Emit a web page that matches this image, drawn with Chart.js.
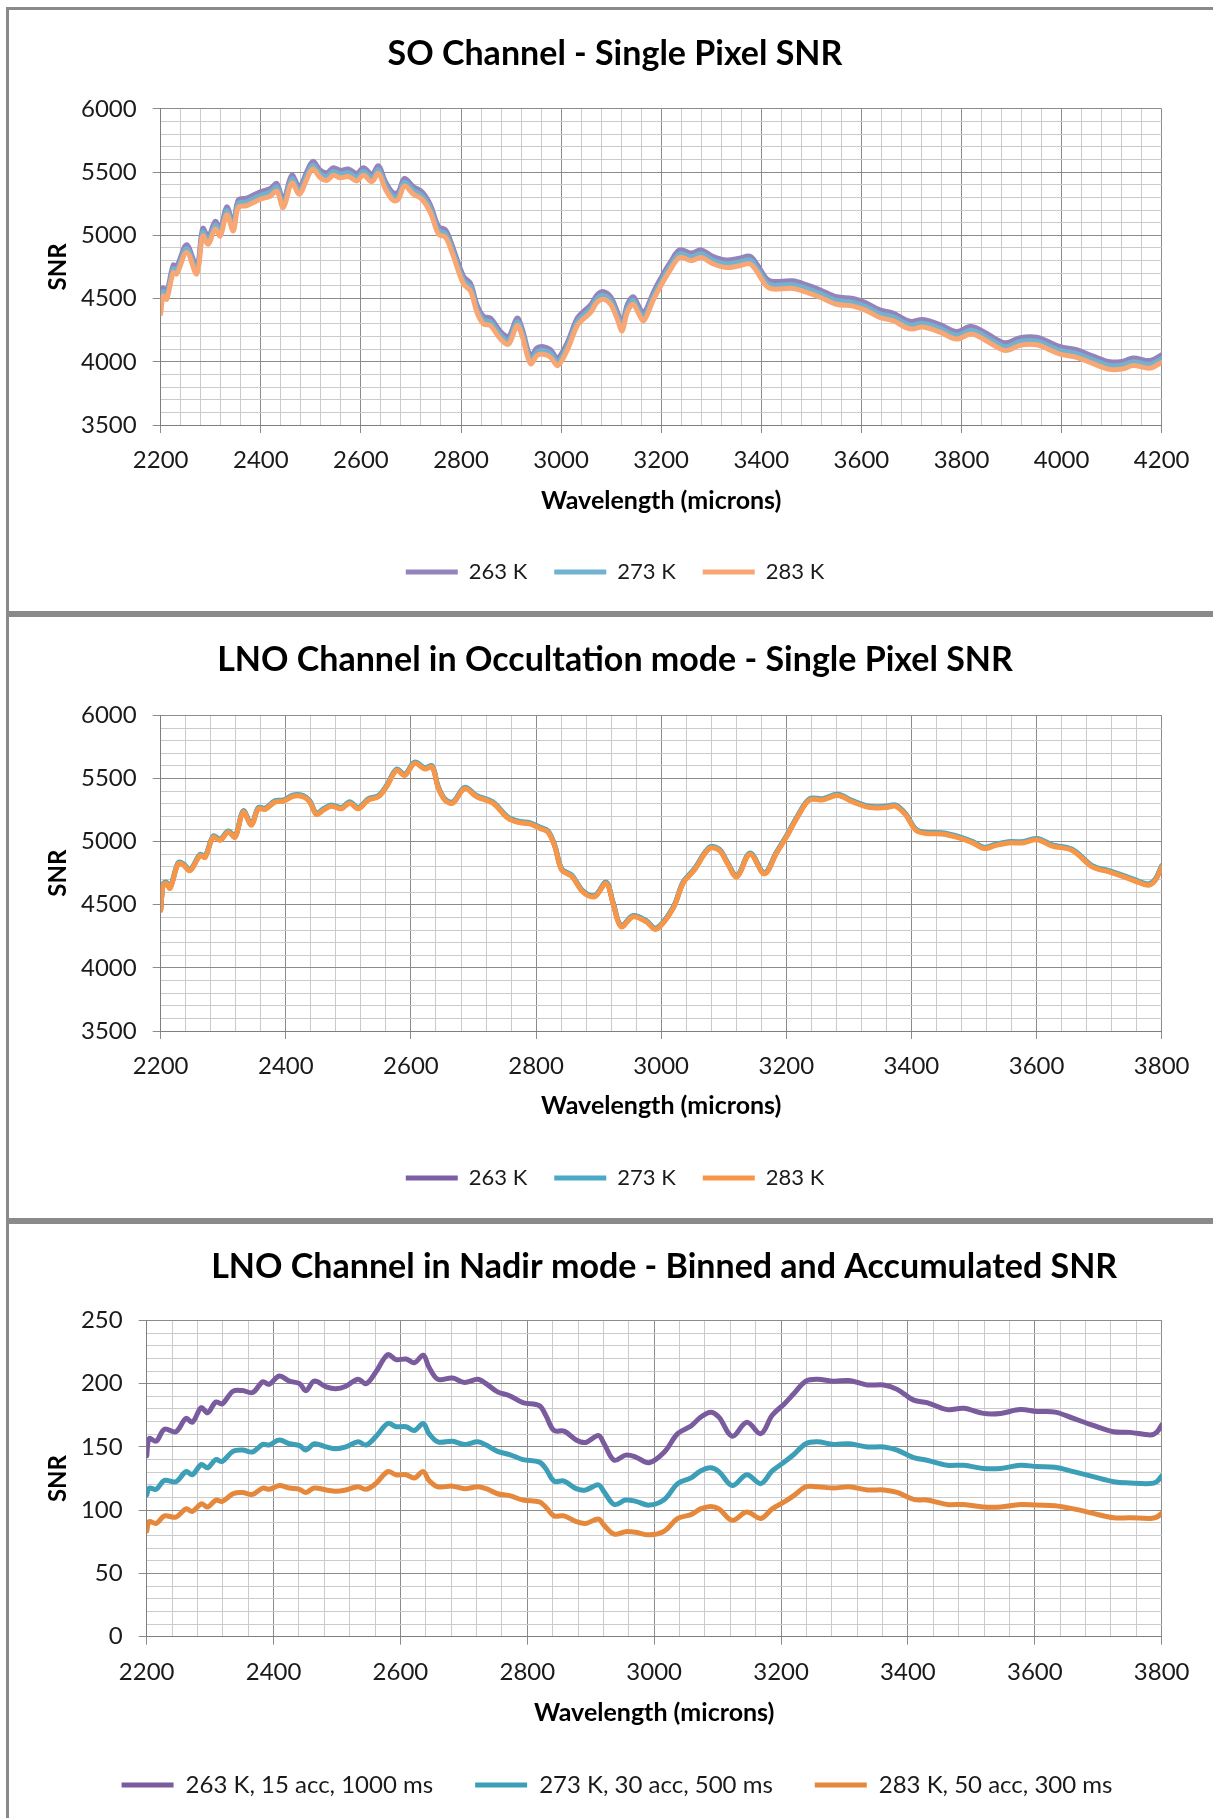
<!DOCTYPE html>
<html>
<head>
<meta charset="utf-8">
<script src="https://cdn.jsdelivr.net/npm/chart.js@4.4.1/dist/chart.umd.min.js"></script>
<style>
  html, body { margin: 0; padding: 0; background: #fff; overflow: hidden; width: 1213px; height: 1818px; }
  .panel { position: absolute; left: 6px; width: 1230px; border: 3px solid #8a8a8a; border-right: none; box-sizing: border-box; }
  canvas { position: absolute; left: 10px; }
</style>
</head>
<body>
<div class="panel" style="top:7px;height:607px"></div>
<div class="panel" style="top:614px;height:607px"></div>
<div class="panel" style="top:1221px;height:620px"></div>
<canvas id="so" width="1210" height="601" style="top:10px"></canvas>
<canvas id="lnoOcc" width="1210" height="601" style="top:617px"></canvas>
<canvas id="lnoNadir" width="1214" height="594" style="top:1224px"></canvas>
<script>
// ---- SO channel, single pixel SNR ----
const SO_WAVELENGTH = [2200, 2205, 2212, 2225, 2232, 2252, 2272, 2284, 2295, 2309,
  2319, 2332, 2345, 2355, 2372, 2399, 2419, 2432, 2445, 2462,
  2477, 2492, 2504, 2519, 2532, 2545, 2559, 2575, 2592, 2605,
  2622, 2635, 2649, 2665, 2675, 2687, 2705, 2722, 2739, 2755,
  2769, 2782, 2805, 2819, 2832, 2845, 2859, 2879, 2895, 2912,
  2922, 2939, 2952, 2965, 2979, 2993, 3012, 3032, 3045, 3059,
  3072, 3085, 3099, 3112, 3122, 3132, 3144, 3155, 3165, 3185,
  3199, 3217, 3237, 3260, 3280, 3303, 3330, 3357, 3377, 3390,
  3410, 3423, 3463, 3490, 3517, 3550, 3583, 3610, 3637, 3663,
  3697, 3723, 3757, 3790, 3820, 3850, 3887, 3917, 3950, 3970,
  3997, 4030, 4063, 4097, 4123, 4143, 4177, 4200];
const SO_263K = [4560, 4585, 4555, 4765, 4755, 4925, 4755, 5055, 4990, 5110,
  5055, 5225, 5095, 5280, 5295, 5345, 5370, 5410, 5280, 5475,
  5385, 5505, 5585, 5515, 5495, 5535, 5515, 5525, 5490, 5535,
  5485, 5550, 5425, 5335, 5345, 5450, 5385, 5345, 5240, 5070,
  5045, 4925, 4675, 4620, 4450, 4360, 4345, 4240, 4200, 4345,
  4265, 4045, 4110, 4120, 4095, 4030, 4150, 4345, 4400, 4450,
  4530, 4555, 4515, 4400, 4305, 4450, 4515, 4440, 4385, 4555,
  4660, 4780, 4885, 4860, 4885, 4835, 4805, 4820, 4835, 4780,
  4660, 4635, 4640, 4610, 4570, 4515, 4500, 4465, 4410, 4385,
  4320, 4335, 4295, 4240, 4280, 4225, 4150, 4190, 4195, 4165,
  4120, 4095, 4045, 4000, 4005, 4030, 4010, 4055];
const SO_273K = [4480, 4555, 4525, 4735, 4725, 4895, 4725, 5025, 4960, 5080,
  5025, 5195, 5065, 5250, 5265, 5315, 5340, 5380, 5250, 5445,
  5355, 5475, 5555, 5485, 5465, 5505, 5485, 5495, 5460, 5505,
  5455, 5520, 5395, 5305, 5315, 5420, 5355, 5315, 5210, 5040,
  5015, 4895, 4645, 4590, 4420, 4330, 4315, 4210, 4170, 4315,
  4235, 4015, 4080, 4090, 4065, 4000, 4120, 4315, 4370, 4420,
  4500, 4525, 4485, 4370, 4275, 4420, 4485, 4410, 4355, 4525,
  4630, 4750, 4855, 4830, 4855, 4805, 4775, 4790, 4805, 4750,
  4630, 4605, 4610, 4580, 4540, 4485, 4470, 4435, 4380, 4355,
  4290, 4305, 4265, 4210, 4250, 4195, 4120, 4160, 4165, 4135,
  4090, 4065, 4015, 3970, 3975, 4000, 3980, 4025];
const SO_283K = [4380, 4520, 4495, 4705, 4695, 4865, 4695, 4995, 4930, 5050,
  4995, 5165, 5035, 5220, 5235, 5285, 5310, 5350, 5220, 5415,
  5325, 5445, 5525, 5455, 5435, 5475, 5455, 5465, 5430, 5475,
  5425, 5490, 5365, 5275, 5285, 5390, 5325, 5285, 5180, 5010,
  4985, 4865, 4615, 4560, 4390, 4300, 4285, 4180, 4140, 4285,
  4205, 3985, 4050, 4060, 4035, 3970, 4090, 4285, 4340, 4390,
  4470, 4495, 4455, 4340, 4245, 4390, 4455, 4380, 4325, 4495,
  4600, 4720, 4825, 4800, 4825, 4775, 4745, 4760, 4775, 4720,
  4600, 4575, 4580, 4550, 4510, 4455, 4440, 4405, 4350, 4325,
  4260, 4275, 4235, 4180, 4220, 4165, 4090, 4130, 4135, 4105,
  4060, 4035, 3985, 3940, 3945, 3970, 3950, 3995];

// ---- LNO channel, occultation mode ----
const OCC_WAVELENGTH = [2200, 2204, 2209, 2215, 2228, 2236, 2247, 2263, 2271, 2284,
  2295, 2308, 2319, 2332, 2345, 2356, 2367, 2383, 2396, 2412,
  2428, 2438, 2449, 2460, 2473, 2489, 2502, 2516, 2532, 2548,
  2561, 2577, 2590, 2606, 2622, 2634, 2643, 2654, 2667, 2686,
  2705, 2731, 2755, 2774, 2790, 2806, 2819, 2830, 2841, 2857,
  2875, 2894, 2912, 2923, 2936, 2955, 2976, 2992,
  3019, 3035, 3053, 3077, 3093, 3106, 3121, 3142, 3165, 3184,
  3200, 3218, 3237, 3258, 3282, 3306, 3333, 3359, 3375, 3391,
  3407, 3423, 3449, 3476, 3498, 3516, 3535, 3556, 3577, 3601,
  3625, 3657, 3689, 3716, 3743, 3764, 3779, 3790, 3800];
const OCC_263K = [4460, 4660, 4675, 4635, 4830, 4820, 4775, 4895, 4880, 5040,
  5015, 5080, 5040, 5240, 5135, 5265, 5260, 5320, 5325, 5365,
  5360, 5320, 5220, 5255, 5285, 5265, 5310, 5265, 5335, 5360,
  5440, 5570, 5530, 5625, 5580, 5595, 5440, 5335, 5310, 5425,
  5360, 5310, 5190, 5155, 5145, 5110, 5080, 4965, 4780, 4730,
  4605, 4570, 4675, 4515, 4330, 4410, 4370, 4310,
  4475, 4675, 4780, 4950, 4935, 4830, 4725, 4905, 4750, 4910,
  5040, 5200, 5335, 5335, 5370, 5320, 5275, 5275, 5285, 5215,
  5095, 5070, 5065, 5035, 4995, 4950, 4975, 4995, 4995, 5020,
  4970, 4935, 4805, 4765, 4720, 4680, 4660, 4700, 4805];
const OCC_273K = [4465, 4665, 4680, 4640, 4835, 4825, 4780, 4900, 4885, 5045,
  5020, 5085, 5045, 5245, 5140, 5270, 5265, 5325, 5330, 5370,
  5365, 5325, 5225, 5260, 5290, 5270, 5315, 5270, 5340, 5365,
  5445, 5575, 5535, 5630, 5585, 5600, 5445, 5340, 5315, 5430,
  5365, 5315, 5195, 5160, 5150, 5115, 5085, 4970, 4785, 4735,
  4610, 4575, 4680, 4520, 4335, 4415, 4375, 4315,
  4480, 4680, 4785, 4955, 4940, 4835, 4730, 4910, 4755, 4915,
  5045, 5205, 5340, 5340, 5375, 5325, 5280, 5280, 5290, 5220,
  5100, 5075, 5070, 5040, 5000, 4955, 4980, 5000, 5000, 5025,
  4975, 4940, 4810, 4770, 4725, 4685, 4665, 4705, 4810];
const OCC_283K = [4455, 4655, 4670, 4630, 4825, 4815, 4770, 4890, 4875, 5035,
  5010, 5075, 5035, 5235, 5130, 5260, 5255, 5315, 5320, 5360,
  5355, 5315, 5215, 5250, 5280, 5260, 5305, 5260, 5330, 5355,
  5435, 5565, 5525, 5620, 5575, 5590, 5435, 5330, 5305, 5420,
  5355, 5305, 5185, 5150, 5140, 5105, 5075, 4960, 4775, 4725,
  4600, 4565, 4670, 4510, 4325, 4405, 4365, 4305,
  4470, 4670, 4775, 4945, 4930, 4825, 4720, 4900, 4745, 4905,
  5035, 5195, 5330, 5330, 5365, 5315, 5270, 5270, 5280, 5210,
  5090, 5065, 5060, 5030, 4990, 4945, 4970, 4990, 4990, 5015,
  4965, 4930, 4800, 4760, 4715, 4675, 4655, 4695, 4800];

// ---- LNO channel, nadir mode (binned + accumulated) ----
const NADIR_WAVELENGTH = [2200, 2204, 2215, 2228, 2246, 2262, 2272, 2286, 2296, 2309,
  2319, 2336, 2351, 2367, 2383, 2393, 2409, 2425, 2441, 2451,
  2464, 2483, 2498, 2514, 2533, 2546, 2561, 2580, 2593, 2609,
  2622, 2636, 2645, 2659, 2682, 2701, 2722, 2735, 2753, 2772,
  2793, 2819, 2829, 2842, 2858, 2877, 2892, 2912, 2921, 2937,
  2955, 2971, 2992,
  3016, 3037, 3058, 3073, 3089, 3102, 3123, 3146, 3168, 3186,
  3205, 3220, 3239, 3257, 3283, 3307, 3336, 3362, 3383, 3409,
  3430, 3462, 3488, 3519, 3546, 3577, 3603, 3632, 3661, 3692,
  3724, 3750, 3782, 3792, 3800];
const NADIR_263K = [143, 156.5, 154.5, 164, 162, 172.5, 169.5, 181, 177, 185.5,
  184, 194, 194.5, 193, 201.5, 199.5, 206, 202, 200, 194.5,
  202, 197.5, 196, 198, 203.5, 200, 209, 223, 219, 219.5,
  216.5, 222.5, 213, 203.5, 204.5, 201, 203.5, 200, 193.5, 190.5,
  185, 182.5, 175, 163, 162.5, 155.5, 153.5, 159, 152.5, 139.5,
  143.5, 142, 137.5,
  146, 160.5, 166.5, 173.5, 177.5, 173.5, 158.5, 169.5, 160.5, 175,
  184, 192, 202, 203.5, 202, 202.5, 199, 199, 195.5, 187,
  185, 179.5, 180.5, 176.5, 176.5, 179.5, 178, 177.5, 172.5, 167,
  162, 161.5, 159.5, 161.5, 167.5];
const NADIR_273K = [112, 117.5, 116.5, 123.5, 122.5, 130.5, 128, 136, 133.5, 140,
  138.5, 146.5, 147.5, 146, 152, 151.5, 155.5, 152.5, 151, 147.5,
  152.5, 150, 148.5, 150, 154, 151.5, 158, 168.5, 166, 166,
  163, 168.5, 160.5, 154, 154.5, 152, 154, 151.5, 146.5, 144,
  140, 138, 133, 123, 123, 117, 116, 120, 114.5, 104.5,
  108, 107, 104,
  108.5, 121, 125.5, 131, 133.5, 130.5, 119.5, 128, 121, 131,
  138, 144, 152.5, 154, 152, 152.5, 150, 150, 147.5, 141.5,
  139.5, 135.5, 135.5, 133, 133, 135.5, 134.5, 134, 130.5, 126.5,
  122.5, 121.5, 121, 122.5, 127];
const NADIR_283K = [83.5, 91, 89.5, 95.5, 94.5, 101, 99, 105, 102.5, 108,
  107, 113, 114, 112.5, 117.5, 116.5, 119.5, 117.5, 116.5, 114,
  117.5, 116, 115, 116, 118.5, 116.5, 121, 130.5, 128, 128,
  125.5, 130.5, 123.5, 118.5, 119, 117, 118.5, 117, 113, 111.5,
  108, 106.5, 102.5, 95.5, 95.5, 91, 89.5, 93, 88, 81,
  83, 82.5, 80.5,
  83.5, 93.5, 96.5, 101, 103, 101, 92, 98.5, 93.5, 101,
  106.5, 111.5, 118.5, 118.5, 117.5, 118.5, 116, 116, 114, 108.5,
  108, 104.5, 104.5, 102.5, 102.5, 104.5, 104, 103.5, 101, 97.5,
  94, 94, 93.5, 94.5, 97.5];

const GRID_MAJOR = '#8c8c8c';
const GRID_MINOR = '#cbcbcb';
const FONT_FAMILY = 'Lato, "Open Sans", "DejaVu Sans", sans-serif';

Chart.defaults.font.family = FONT_FAMILY;
Chart.defaults.color = '#1a1a1a';

function legendLabels(chart) {
  // line-style legend swatch: solid bar in the series colour, no outline
  return Chart.defaults.plugins.legend.labels.generateLabels(chart)
    .map(item => ({ ...item, fillStyle: item.strokeStyle, lineWidth: 0 }));
}

// nudges the title block sideways after layout (the source title is not centred on the plot)
const titleNudge = {
  id: 'titleNudge',
  afterLayout(chart, args, opts) {
    const block = chart.titleBlock;
    if (!block || !opts.dx) return;
    block.left += opts.dx;
    block.right += opts.dx;
  },
};

function makeScale(range, minorStep, majorStep, L, isX) {
  const isMajor = ctx => ctx.tick && Math.round(ctx.tick.value) % majorStep === 0;
  return {
    type: 'linear',
    min: range[0],
    max: range[1],
    ticks: {
      stepSize: minorStep,
      autoSkip: false,
      maxRotation: 0,
      padding: isX ? 13 : 16,
      color: '#1a1a1a',
      font: { size: 24 },
      callback: v => (Math.round(v) % majorStep === 0 ? v : ''),
    },
    grid: {
      color: ctx => (isMajor(ctx) ? GRID_MAJOR : GRID_MINOR),
      tickColor: ctx => (isMajor(ctx) ? GRID_MAJOR : 'rgba(0,0,0,0)'),
      tickLength: 8,
      lineWidth: 1,
    },
    border: { display: true, color: '#7f7f7f', width: 1 },
    title: isX
      ? { display: true, text: 'Wavelength (microns)', color: '#000', font: { size: 25, weight: 'bold' }, padding: { top: 0, bottom: L.xTitleBottom } }
      : { display: true, text: 'SNR', color: '#000', font: { size: 24, weight: 'bold' }, padding: { top: L.yTitleTop, bottom: 0 } },
    afterFit(scale) {
      if (isX) scale.height = L.xAxisHeight;
      else scale.width = L.yAxisWidth;
    },
  };
}

function drawPanel(canvasId, cfg) {
  const L = cfg.layout;
  const n = cfg.series.length;
  return new Chart(document.getElementById(canvasId), {
    type: 'line',
    plugins: [titleNudge],
    data: {
      datasets: cfg.series.map((s, i) => ({
        label: s.label,
        data: cfg.wavelength.map((w, j) => ({ x: w, y: s.values[j] })),
        borderColor: s.color,
        backgroundColor: s.color,
        borderWidth: cfg.lineWidth,
        pointRadius: 0,
        tension: 0.35,
        borderCapStyle: 'round',
        borderJoinStyle: 'round',
        order: n - 1 - i, // later series painted on top, as in the source
      })),
    },
    options: {
      responsive: false,
      animation: false,
      events: [],
      layout: { padding: { left: L.padSide, right: L.padSide, top: 0, bottom: L.padBottom } },
      plugins: {
        titleNudge: { dx: L.titleDx || 0 },
        title: {
          display: true,
          text: cfg.title,
          fullSize: cfg.titleFullSize,
          color: '#000',
          font: { size: 34, weight: 'bold' },
          padding: { top: L.titleTop, bottom: L.titleBottom },
        },
        legend: {
          position: 'bottom',
          labels: {
            boxWidth: 52,
            boxHeight: 5,
            padding: L.legendPadding,
            color: '#1a1a1a',
            font: { size: L.legendFont },
            sort: (a, b) => a.datasetIndex - b.datasetIndex,
            generateLabels: legendLabels,
          },
        },
        tooltip: { enabled: false },
      },
      scales: {
        x: makeScale(cfg.xRange, 40, 200, L, true),
        y: makeScale(cfg.yRange, cfg.yMinor, cfg.yMajor, L, false),
      },
    },
  });
}

drawPanel('so', {
  title: 'SO Channel - Single Pixel SNR',
  titleFullSize: true,
  wavelength: SO_WAVELENGTH,
  xRange: [2200, 4200],
  yRange: [3500, 6000], yMinor: 100, yMajor: 500,
  lineWidth: 5,
  series: [
    { label: '263 K', values: SO_263K, color: '#9584bb' },
    { label: '273 K', values: SO_273K, color: '#70b2cf' },
    { label: '283 K', values: SO_283K, color: '#f8a673' },
  ],
  layout: { padSide: 58.3, padBottom: 18, titleTop: 24.1, titleBottom: 34, xAxisHeight: 109, yAxisWidth: 92.4,
    xTitleBottom: 18, yTitleTop: -24.7, legendPadding: 27, legendFont: 22 },
});

drawPanel('lnoOcc', {
  title: 'LNO Channel in Occultation mode - Single Pixel SNR',
  titleFullSize: true,
  wavelength: OCC_WAVELENGTH,
  xRange: [2200, 3800],
  yRange: [3500, 6000], yMinor: 100, yMajor: 500,
  lineWidth: 5,
  series: [
    { label: '263 K', values: OCC_263K, color: '#7d5fa6' },
    { label: '273 K', values: OCC_273K, color: '#4aa9c7' },
    { label: '283 K', values: OCC_283K, color: '#f79646' },
  ],
  layout: { padSide: 58.3, padBottom: 19, titleTop: 22.6, titleBottom: 35, xAxisHeight: 109, yAxisWidth: 92.4,
    xTitleBottom: 19, yTitleTop: -24.7, legendPadding: 27, legendFont: 22 },
});

drawPanel('lnoNadir', {
  title: 'LNO Channel in Nadir mode - Binned and Accumulated SNR',
  titleFullSize: false,
  wavelength: NADIR_WAVELENGTH,
  xRange: [2200, 3800],
  yRange: [0, 250], yMinor: 10, yMajor: 50,
  lineWidth: 5,
  series: [
    { label: '263 K, 15 acc, 1000 ms', values: NADIR_263K, color: '#7a5b9e' },
    { label: '273 K, 30 acc, 500 ms', values: NADIR_273K, color: '#3c9fb7' },
    { label: '283 K, 50 acc, 300 ms', values: NADIR_283K, color: '#e5883c' },
  ],
  layout: { padSide: 62.3, padBottom: 11, titleTop: 23.1, titleBottom: 32.5, xAxisHeight: 94.3, yAxisWidth: 74.4,
    xTitleBottom: 3, yTitleTop: -28.7, legendPadding: 42, legendFont: 24, titleDx: 10 },
});
</script>
</body>
</html>
